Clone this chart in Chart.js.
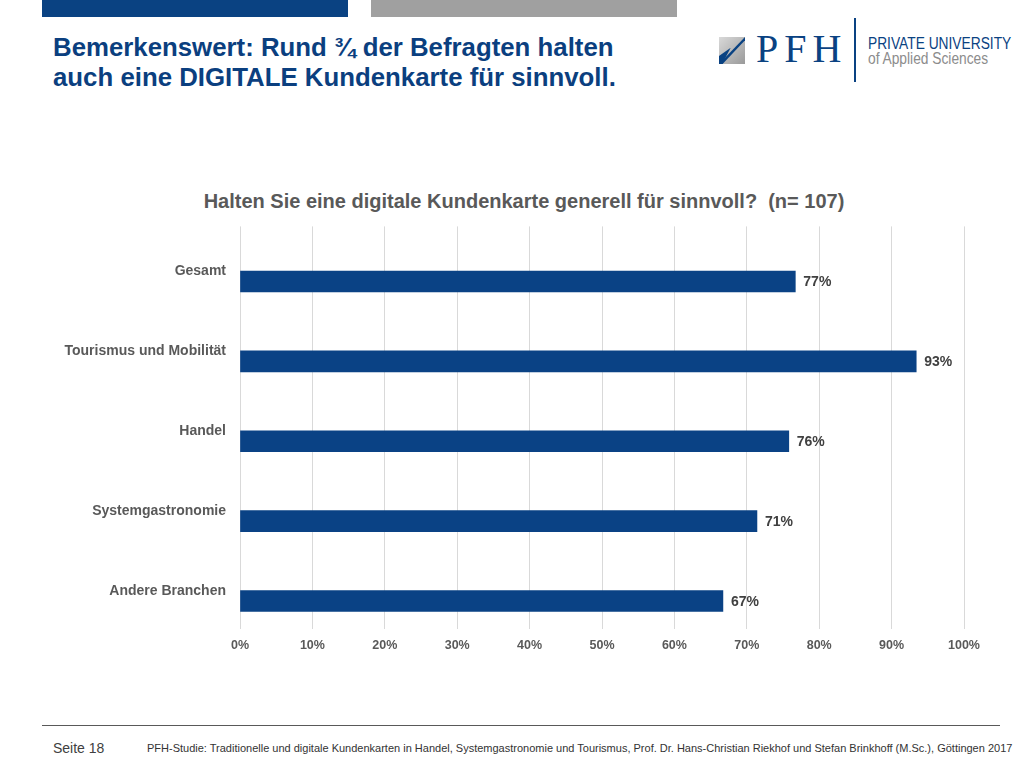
<!DOCTYPE html>
<html>
<head>
<meta charset="utf-8">
<script src="https://cdn.jsdelivr.net/npm/chart.js@4.4.1/dist/chart.umd.min.js"></script>
<style>
  body { margin: 0; background: #fff; font-family: "Liberation Sans", Arial, sans-serif; }
  #page { position: relative; width: 1030px; height: 770px; overflow: hidden; }
  .abs { position: absolute; }
  #bar1 { left: 42px; top: 0; width: 306px; height: 17px; background: #0a4282; }
  #bar2 { left: 371px; top: 0; width: 306px; height: 17px; background: #a0a0a0; }
  #headline { left: 53px; top: 32px; margin: 0; font-size: 25.8px; line-height: 30px; font-weight: bold; color: #0b3f7f; }
  #icon { left: 719px; top: 37px; width: 26px; height: 27px;
          background: linear-gradient(135deg, #d9d9d9 0%, #9a9a9a 100%); overflow: hidden; }
  #icon .tri { position: absolute; left: 0; top: 0; width: 26px; height: 27px;
               background: #0a4282; clip-path: polygon(0 100%, 100% 0, 100% 12%, 14% 100%); }
  #icon .tri2 { position: absolute; left: 0; top: 0; width: 26px; height: 27px;
                background: #0a4282; clip-path: polygon(0 100%, 0 70%, 45% 40%, 12% 100%); }
  #pfh { left: 756px; top: 25px; font-family: "Liberation Serif", serif; font-size: 40px; letter-spacing: 6px; color: #0a4282; }
  #vline { left: 854px; top: 18px; width: 2px; height: 64px; background: #0a4282; }
  .uni { left: 868px; font-size: 16px; white-space: nowrap; transform-origin: left top; transform: scaleX(0.86); }
  #uni1 { top: 35px; color: #0a4282; }
  #uni2 { top: 50px; color: #8c8c8c; }
  #chartTitle { left: 0; top: 190px; width: 1048px; text-align: center; font-size: 20px; font-weight: bold; color: #595959; line-height: 22px; }
  #chartBox { left: 0; top: 204px; width: 1030px; height: 466px; }
  #footline { left: 42px; top: 725px; width: 958px; height: 1px; background: #595959; }
  #seite { left: 53px; top: 740px; font-size: 14px; color: #404040; }
  #source { left: 147px; top: 742px; font-size: 11px; color: #333; white-space: nowrap; }
</style>
</head>
<body>
<div id="page">
  <div id="bar1" class="abs"></div>
  <div id="bar2" class="abs"></div>
  <h1 id="headline" class="abs">Bemerkenswert: Rund ¾ der Befragten halten<br>auch eine DIGITALE Kundenkarte für sinnvoll.</h1>
  <div id="icon" class="abs"><div class="tri"></div><div class="tri2"></div></div>
  <div id="pfh" class="abs">PFH</div>
  <div id="vline" class="abs"></div>
  <div id="uni1" class="abs uni">PRIVATE UNIVERSITY</div>
  <div id="uni2" class="abs uni">of Applied Sciences</div>
  <div id="chartTitle" class="abs">Halten Sie eine digitale Kundenkarte generell für sinnvoll?&nbsp; (n= 107)</div>
  <div id="chartBox" class="abs"><canvas id="chart"></canvas></div>
  <div id="footline" class="abs"></div>
  <div id="seite" class="abs">Seite 18</div>
  <div id="source" class="abs">PFH-Studie: Traditionelle und digitale Kundenkarten in Handel, Systemgastronomie und Tourismus, Prof. Dr. Hans-Christian Riekhof und Stefan Brinkhoff (M.Sc.), Göttingen 2017</div>
</div>
<script>
const categories = ["Gesamt", "Tourismus und Mobilität", "Handel", "Systemgastronomie", "Andere Branchen"];
const shares = [76.7, 93.4, 75.8, 71.4, 66.7];
const xTicks = [0, 10, 20, 30, 40, 50, 60, 70, 80, 90, 100];

const font = "'Liberation Sans', Arial, sans-serif";

// value labels at the end of each bar
const valueLabels = {
  id: "valueLabels",
  afterDatasetsDraw(chart) {
    const c = chart.ctx;
    const meta = chart.getDatasetMeta(0);
    c.save();
    c.font = "bold 14px " + font;
    c.fillStyle = "#404040";
    c.textAlign = "left";
    c.textBaseline = "middle";
    meta.data.forEach(function (bar, i) {
      c.fillText(Math.round(shares[i]) + "%", bar.x + 8, bar.y + 1);
    });
    c.restore();
  },
};

const ctx = document.getElementById("chart").getContext("2d");
new Chart(ctx, {
  type: "bar",
  data: {
    datasets: [
      {
        data: shares.map((v, i) => ({ x: v, y: i })),
        backgroundColor: "#0a4285",
        barThickness: 21,
      },
    ],
  },
  options: {
    indexAxis: "y",
    responsive: true,
    maintainAspectRatio: false,
    animation: false,
    layout: { padding: { left: 0, right: 66, top: 10, bottom: 8 } },
    plugins: {
      legend: { display: false },
      tooltip: { enabled: false },
    },
    scales: {
      x: {
        type: "linear",
        min: 0,
        max: 100,
        afterBuildTicks: (scale) => { scale.ticks = xTicks.map((v) => ({ value: v })); },
        ticks: {
          callback: (v) => v + "%",
          color: "#595959",
          font: { family: font, size: 12.5, weight: "bold" },
          padding: 9,
        },
        grid: { color: "#d9d9d9", drawTicks: false },
        border: { display: false },
      },
      y: {
        type: "linear",
        reverse: true,
        offset: false,
        min: -0.69,
        max: 4.35,
        afterBuildTicks: (scale) => { scale.ticks = categories.map((c, i) => ({ value: i })); },
        afterFit: (scale) => { scale.width = 240; },
        ticks: {
          callback: (v) => categories[v],
          color: "#595959",
          font: { family: font, size: 14, weight: "bold" },
          labelOffset: -10,
          padding: 14,
        },
        grid: { display: false, drawTicks: false, offset: false },
        border: { display: false },
      },
    },
  },
  plugins: [valueLabels],
});
</script>
</body>
</html>
